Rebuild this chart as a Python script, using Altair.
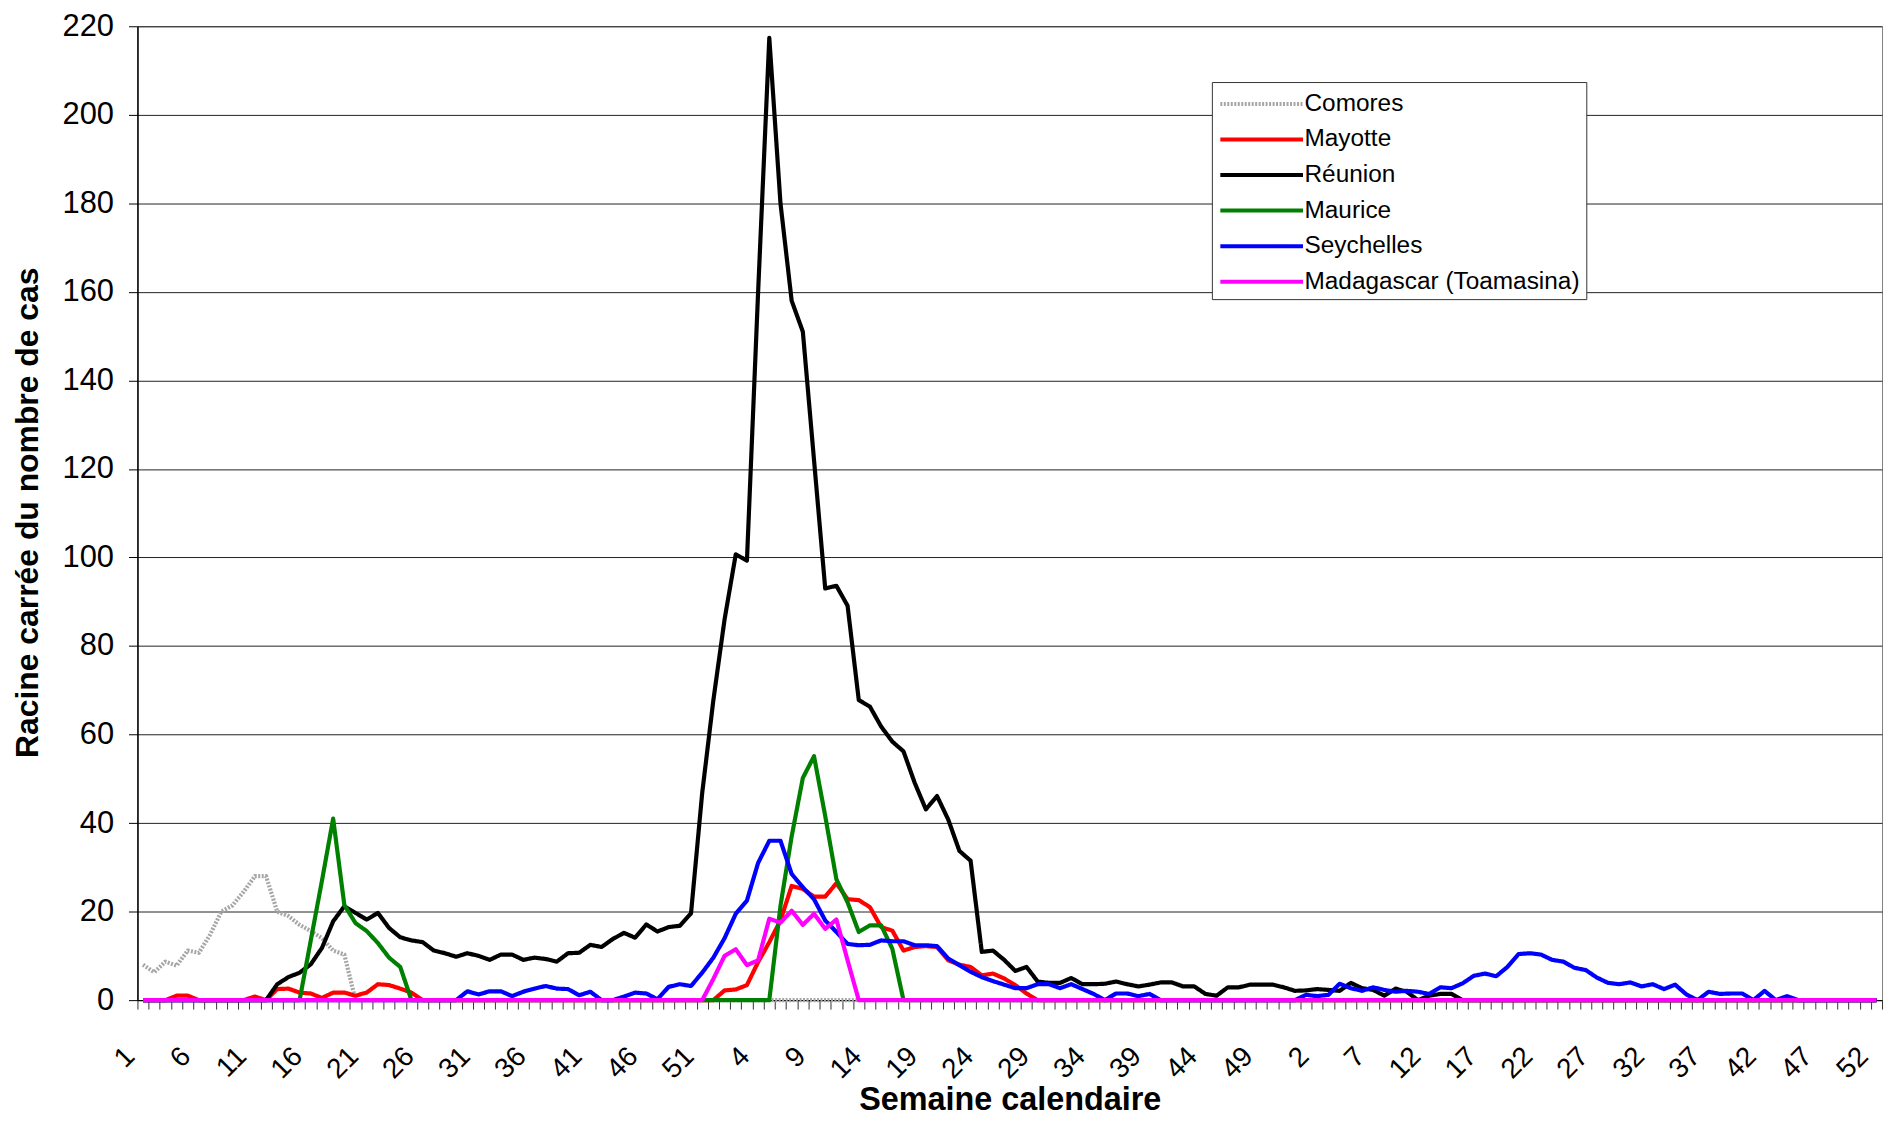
import altair as alt
import pandas as pd

names = ["Comores", "Mayotte", "Réunion", "Maurice", "Seychelles", "Madagascar (Toamasina)"]
colors = ["#a6a6a6", "#ff0000", "#000000", "#008000", "#0000ff", "#ff00ff"]
dashes = [[2, 1.5], [1, 0], [1, 0], [1, 0], [1, 0], [1, 0]]

# tick labels shown every 5 calendar weeks (3 years x 52 weeks)
x_tick_labels = ["1", "6", "11", "16", "21", "26", "31", "36", "41", "46", "51",
                 "4", "9", "14", "19", "24", "29", "34", "39", "44", "49",
                 "2", "7", "12", "17", "22", "27", "32", "37", "42", "47", "52"]

comores = (
    [8, 6.3, 8.7, 7.8, 11.2, 10.7, 14.8, 20, 21.4, 24.5, 28, 28, 20,
     19, 17, 15.6, 14, 11.2, 10.3, 0, 0, 0, 0, 0, 0, 0,
     0, 0, 0, 0, 0, 0, 0, 0, 0, 0, 0, 0, 0,
     0, 0, 0, 0, 0, 0, 0, 0, 0, 0, 0, 0, 0]
    + [0, 0, 0, 0, 0, 0, 0, 0, 0, 0, 0, 0, 0,
       0, 0, 0, 0, 0, 0, 0, 0, 0, 0, 0, 0, 0,
       0, 0, 0, 0, 0, 0, 0, 0, 0, 0, 0, 0, 0,
       0, 0, 0, 0, 0, 0, 0, 0, 0, 0, 0, 0, 0]
    + [0, 0, 0, 0, 0, 0, 0, 0, 0, 0, 0, 0, 0,
       0, 0, 0, 0, 0, 0, 0, 0, 0, 0, 0, 0, 0,
       0, 0, 0, 0, 0, 0, 0, 0, 0, 0, 0, 0, 0,
       0, 0, 0, 0, 0, 0, 0, 0, 0, 0, 0, 0, 0]
)

mayotte = (
    [0, 0, 0, 1, 1, 0, 0, 0, 0, 0, 0.8, 0, 2.5,
     2.6, 1.7, 1.5, 0.5, 1.7, 1.7, 1.0, 1.7, 3.6, 3.4, 2.6, 1.7, 0,
     0, 0, 0, 0, 0, 0, 0, 0, 0, 0, 0, 0, 0,
     0, 0, 0, 0, 0, 0, 0, 0, 0, 0, 0, 0, 0]
    + [2.2, 2.4, 3.4, 8.6, 13.1, 18, 25.8, 25.1, 23.4, 23.4, 26.4, 22.8, 22.6,
       21, 16.5, 15.7, 11.2, 12, 12.2, 12, 9, 8, 7.5, 5.6, 6, 4.9,
       3.4, 1.5, 0, 0, 0, 0, 0, 0, 0, 0, 0, 0, 0,
       0, 0, 0, 0, 0, 0, 0, 0, 0, 0, 0, 0, 0]
    + [0, 0, 0, 0, 0, 0, 0, 0, 0, 0, 0, 0, 0,
       0, 0, 0, 0, 0, 0, 0, 0, 0, 0, 0, 0, 0,
       0, 0, 0, 0, 0, 0, 0, 0, 0, 0, 0, 0, 0,
       0, 0, 0, 0, 0, 0, 0, 0, 0, 0, 0, 0, 0]
)

reunion = (
    [0, 0, 0, 0, 0, 0, 0, 0, 0, 0, 0, 0, 3.6,
     5.2, 6.2, 8.1, 11.8, 17.8, 21.2, 19.7, 18.2, 19.7, 16.3, 14.2, 13.5, 13.1,
     11.2, 10.6, 9.8, 10.6, 10.0, 9.1, 10.3, 10.3, 9.1, 9.6, 9.3, 8.7, 10.6,
     10.7, 12.5, 12.0, 13.8, 15.2, 14.1, 17.1, 15.5, 16.5, 16.8, 19.6, 46.8, 67.8]
    + [86, 100.7, 99.3, 160, 217.4, 180, 158, 151, 122, 93, 93.6, 89.1, 67.8,
       66.3, 61.8, 58.4, 56.2, 49.1, 43.1, 46.1, 40.8, 33.7, 31.5, 10.9, 11.2, 9.1,
       6.6, 7.5, 4.2, 3.9, 3.9, 5.0, 3.6, 3.6, 3.7, 4.2, 3.6, 3.1, 3.5,
       4.0, 4.0, 3.1, 3.1, 1.4, 1.0, 2.9, 2.9, 3.5, 3.5, 3.5, 2.9, 2.1]
    + [2.2, 2.5, 2.3, 2.1, 3.9, 2.7, 2.3, 1.0, 2.6, 1.9, 0, 1.0, 1.4,
       1.4, 0, 0, 0, 0, 0, 0, 0, 0, 0, 0, 0, 0,
       0, 0, 0, 0, 0, 0, 0, 0, 0, 0, 0, 0, 0,
       0, 0, 0, 0, 0, 0, 0, 0, 0, 0, 0, 0, 0]
)

maurice = (
    [0, 0, 0, 0, 0, 0, 0, 0, 0, 0, 0, 0, 0,
     0, 0, 13.5, 27, 41, 21.5, 17.4, 15.6, 12.9, 9.6, 7.5, 0, 0,
     0, 0, 0, 0, 0, 0, 0, 0, 0, 0, 0, 0, 0,
     0, 0, 0, 0, 0, 0, 0, 0, 0, 0, 0, 0, 0]
    + [0, 0, 0, 0, 0, 21.3, 37, 50.2, 55.1, 41.6, 27.3, 22.1, 15.4,
       16.9, 16.9, 11.6, 0, 0, 0, 0, 0, 0, 0, 0, 0, 0,
       0, 0, 0, 0, 0, 0, 0, 0, 0, 0, 0, 0, 0,
       0, 0, 0, 0, 0, 0, 0, 0, 0, 0, 0, 0, 0]
    + [0, 0, 0, 0, 0, 0, 0, 0, 0, 0, 0, 0, 0,
       0, 0, 0, 0, 0, 0, 0, 0, 0, 0, 0, 0, 0,
       0, 0, 0, 0, 0, 0, 0, 0, 0, 0, 0, 0, 0,
       0, 0, 0, 0, 0, 0, 0, 0, 0, 0, 0, 0, 0]
)

seychelles = (
    [0, 0, 0, 0, 0, 0, 0, 0, 0, 0, 0, 0, 0,
     0, 0, 0, 0, 0, 0, 0, 0, 0, 0, 0, 0, 0,
     0, 0, 0, 2.0, 1.3, 2.0, 2.0, 0.9, 1.9, 2.6, 3.2, 2.6, 2.5,
     1.1, 1.9, 0, 0, 0.8, 1.7, 1.5, 0.2, 3.0, 3.6, 3.2, 6.2, 9.6]
    + [14, 19.5, 22.5, 31, 36, 36, 28.5, 25.5, 22.8, 18, 15.4, 12.7, 12.4,
       12.5, 13.5, 13.3, 13.3, 12.4, 12.4, 12.2, 9.4, 7.9, 6.4, 5.2, 4.3, 3.5,
       2.7, 2.7, 3.6, 3.6, 2.7, 3.6, 2.5, 1.4, 0, 1.5, 1.5, 0.9, 1.4,
       0, 0, 0, 0, 0, 0, 0, 0, 0, 0, 0, 0, 0]
    + [1.2, 0.9, 1.2, 3.7, 2.7, 2.1, 2.9, 2.3, 1.9, 2.1, 1.9, 1.4, 2.9,
       2.7, 3.8, 5.5, 6.0, 5.4, 7.5, 10.4, 10.6, 10.3, 9.1, 8.7, 7.3, 6.8,
       5.1, 3.9, 3.6, 4.0, 3.1, 3.6, 2.5, 3.5, 1.3, 0, 1.9, 1.4, 1.5,
       1.5, 0, 2.1, 0, 0.9, 0, 0, 0, 0, 0, 0, 0, 0]
)

madagascar = (
    [0, 0, 0, 0, 0, 0, 0, 0, 0, 0, 0, 0, 0,
     0, 0, 0, 0, 0, 0, 0, 0, 0, 0, 0, 0, 0,
     0, 0, 0, 0, 0, 0, 0, 0, 0, 0, 0, 0, 0,
     0, 0, 0, 0, 0, 0, 0, 0, 0, 0, 0, 0, 4.8]
    + [10, 11.5, 7.9, 9.0, 18.4, 17.5, 20.2, 17, 19.5, 16.1, 18.2, 9, 0,
       0, 0, 0, 0, 0, 0, 0, 0, 0, 0, 0, 0, 0,
       0, 0, 0, 0, 0, 0, 0, 0, 0, 0, 0, 0, 0,
       0, 0, 0, 0, 0, 0, 0, 0, 0, 0, 0, 0, 0]
    + [0, 0, 0, 0, 0, 0, 0, 0, 0, 0, 0, 0, 0,
       0, 0, 0, 0, 0, 0, 0, 0, 0, 0, 0, 0, 0,
       0, 0, 0, 0, 0, 0, 0, 0, 0, 0, 0, 0, 0,
       0, 0, 0, 0, 0, 0, 0, 0, 0, 0, 0, 0, 0]
)

series = [comores, mayotte, reunion, maurice, seychelles, madagascar]

rows = []
for name, vals in zip(names, series):
    for i, v in enumerate(vals):
        rows.append({"idx": i, "country": name, "value": v})
df = pd.DataFrame(rows)

label_js = "[" + ",".join("'" + t + "'" for t in x_tick_labels) + "]"

x_axis = alt.Axis(
    title="Semaine calendaire",
    tickBand="extent",
    labelExpr="datum.value % 5 == 0 ? " + label_js + "[datum.value / 5] : ''",
    labelAngle=315,
    labelAlign="right",
    labelBaseline="middle",
    labelPadding=43,
    labelOffset=-13,
    labelOverlap=False,
    labelFontSize=28,
    tickSize=9,
    tickColor="#333333",
    domainColor="#000000",
    grid=False,
    titleFontSize=32.5,
    titleFontWeight="bold",
    titleY=110,
    titleBaseline="alphabetic",
)

y_axis = alt.Axis(
    title="Racine carrée du nombre de cas",
    values=list(range(0, 221, 20)),
    grid=True,
    gridColor="#222222",
    gridWidth=1,
    tickSize=9,
    tickColor="#000000",
    domainColor="#000000",
    domainWidth=1.5,
    labelFontSize=31,
    labelPadding=15,
    titleFontSize=32,
    titleFontWeight="bold",
    titleX=-110,
    titleY=488,
    titleAlign="center",
    titleBaseline="middle",
    titleAngle=270,
)

chart = (
    alt.Chart(df)
    .mark_line(strokeWidth=4.2, strokeJoin="round", strokeCap="butt")
    .encode(
        x=alt.X("idx:O", scale=alt.Scale(type="band", paddingInner=0, paddingOuter=0),
                axis=x_axis, bandPosition=0.5),
        y=alt.Y("value:Q", scale=alt.Scale(domain=[0, 220], nice=False), axis=y_axis),
        color=alt.Color("country:N", scale=alt.Scale(domain=names, range=colors),
                        legend=alt.Legend(title=None)),
        strokeDash=alt.StrokeDash("country:N", scale=alt.Scale(domain=names, range=dashes),
                                  legend=alt.Legend(title=None)),
    )
    .properties(
        width=1752,
        height=978,
        padding={"left": 130, "top": 16, "right": 6, "bottom": 115},
        autosize=alt.AutoSizeParams(type="none"),
    )
    .configure_view(stroke="#808080", strokeWidth=1)
    .configure_axis(labelFont="Liberation Sans", titleFont="Liberation Sans",
                    labelColor="#000000", titleColor="#000000")
    .configure_legend(
        orient="none", legendX=1079, legendY=56,
        fillColor="white", strokeColor="#333333", padding=6,
        symbolType="M-3,0H3", symbolSize=766, symbolStrokeWidth=4,
        symbolOffset=28,
        labelFontSize=24.5, labelFont="Liberation Sans", labelColor="#000000",
        rowPadding=7.7, labelLimit=400, labelOffset=27,
    )
)

chart.save("out.html", embed_options={"renderer": "svg", "actions": False})
